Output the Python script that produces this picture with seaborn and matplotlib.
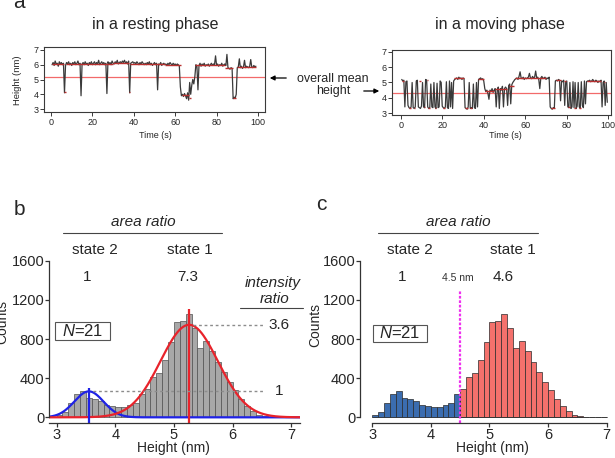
import numpy as np
import pandas as pd
import matplotlib
matplotlib.use('Agg')
import matplotlib.pyplot as plt
import seaborn as sns
from matplotlib.patches import Rectangle, FancyArrowPatch
from matplotlib.lines import Line2D
from matplotlib import font_manager

sns.set_theme(style='white')
plt.rcParams['font.family'] = ['Liberation Sans', 'DejaVu Sans']
plt.rcParams['mathtext.fontset'] = 'custom'
plt.rcParams['mathtext.it'] = 'Liberation Sans:italic'
plt.rcParams['mathtext.rm'] = 'Liberation Sans'

try:
    font_manager.findfont('Liberation Sans Narrow', fallback_to_default=False)
    NARROW = 'Liberation Sans Narrow'
except Exception:
    NARROW = 'Liberation Sans'

# ---------------- data ----------------
# panel a: height traces (nm) sampled every 0.5 s
rest_time_range = (0.5, 99.0)
rest_heights = [
    6.0, 6.15, 5.95, 6.25, 6.05, 6.1, 5.9, 6.2, 6.05, 6.15,
    6.0, 6.1, 4.1, 5.95, 6.15, 6.05, 6.2, 6.0, 6.1, 5.95,
    6.15, 6.05, 6.2, 6.0, 6.1, 6.25, 6.0, 6.1, 3.9, 6.05,
    6.15, 6.0, 6.2, 6.05, 6.1, 5.95, 6.15, 6.05, 6.2, 6.0,
    6.1, 6.2, 6.0, 6.15, 6.05, 6.3, 6.0, 6.1, 6.2, 6.05,
    6.15, 6.0, 6.1, 4.05, 6.2, 6.05, 6.15, 6.0, 6.25, 6.1,
    6.05, 6.2, 6.1, 6.3, 6.05, 6.15, 6.2, 6.1, 6.25, 6.15,
    6.3, 6.1, 6.2, 6.05, 6.25, 4.1, 6.1, 6.15, 6.2, 6.1,
    6.15, 6.05, 6.2, 6.1, 6.0, 6.15, 6.05, 6.2, 6.1, 6.0,
    6.1, 6.0, 6.15, 6.05, 6.2, 6.0, 6.1, 5.95, 6.05, 6.15,
    6.0, 6.1, 4.3, 6.05, 6.0, 6.15, 5.95, 6.05, 6.1, 6.0,
    6.05, 5.95, 6.1, 6.0, 6.15, 6.05, 5.95, 6.1, 6.0, 6.05,
    5.95, 6.05, 6.0, 5.9, 4.5, 3.9, 4.0, 3.85, 4.05, 3.9,
    3.7, 4.1, 3.6, 4.8, 4.0, 4.6, 5.0, 4.7, 5.2, 6.0,
    5.9, 4.3, 5.95, 6.1, 5.9, 6.05, 5.95, 6.1, 5.9, 6.0,
    5.95, 6.05, 5.9, 6.0, 6.1, 5.95, 6.05, 6.0, 6.6, 5.95,
    6.05, 5.9, 6.0, 5.95, 6.1, 5.9, 6.0, 6.05, 5.95, 6.7,
    5.8, 5.75, 5.7, 5.8, 5.75, 3.7, 3.8, 3.75, 4.0, 5.8,
    5.85, 6.4, 5.8, 5.9, 5.75, 5.85, 6.3, 5.8, 5.9, 5.85,
    5.8, 5.9, 6.35, 5.85, 5.8, 5.95, 5.85, 5.9,
]
rest_fit_start = [0.5, 6.3, 7.0, 30.0, 37.8, 38.4, 55.0, 63.3, 66.5, 69.8, 84.0, 88.0, 89.8]
rest_fit_end = [6.2, 7.0, 30.0, 37.8, 38.4, 55.0, 63.0, 66.5, 67.5, 84.0, 88.0, 89.6, 99.0]
rest_fit_level = [6.05, 4.15, 6.08, 6.12, 4.15, 6.05, 5.98, 3.95, 3.75, 5.97, 5.78, 3.78, 5.85]
rest_mean = 5.15

move_time_range = (0.5, 99.5)
move_heights = [
    5.2, 5.1, 5.15, 3.4, 5.05, 5.1, 3.5, 3.35, 3.3, 3.4,
    5.0, 3.35, 3.3, 3.4, 5.1, 5.15, 3.4, 3.35, 3.3, 3.45,
    5.0, 3.4, 3.35, 5.2, 5.15, 3.4, 3.3, 3.35, 4.9, 3.4,
    3.35, 5.0, 3.4, 3.3, 4.95, 3.35, 3.4, 5.1, 5.0, 3.45,
    3.35, 3.3, 3.4, 5.05, 3.35, 3.3, 5.1, 3.4, 5.0, 3.3,
    5.1, 5.2, 5.25, 5.3, 5.2, 5.35, 5.25, 5.3, 5.2, 5.3,
    5.25, 3.35, 3.3, 3.25, 3.4, 5.0, 3.3, 3.35, 3.3, 4.9,
    3.35, 3.3, 5.0, 3.4, 5.2, 5.25, 5.3, 5.2, 5.25, 5.1,
    4.6, 4.4, 4.5, 4.3, 3.9, 4.5, 4.4, 4.6, 4.35, 4.5,
    4.6, 3.4, 4.5, 4.7, 3.3, 4.6, 4.5, 4.75, 3.4, 4.6,
    4.7, 4.6, 3.5, 4.8, 4.9, 3.6, 4.85, 5.0, 5.1, 5.2,
    5.25, 5.3, 5.2, 5.4, 5.7, 5.3, 5.25, 5.35, 5.2, 5.3,
    5.25, 5.3, 5.35, 5.6, 5.3, 5.25, 5.4, 5.3, 5.35, 5.75,
    5.3, 5.35, 5.2, 4.6, 5.3, 5.4, 5.25, 5.3, 5.35, 5.2,
    5.3, 5.25, 5.35, 3.4, 3.3, 3.25, 3.35, 3.3, 5.1, 5.15,
    5.1, 5.2, 5.15, 3.8, 5.1, 5.05, 5.15, 3.5, 5.05, 5.1,
    3.4, 3.35, 5.0, 3.3, 3.4, 5.05, 3.35, 5.0, 3.3, 3.45,
    5.0, 3.4, 3.3, 5.05, 3.5, 3.35, 5.1, 3.6, 5.05, 5.1,
    5.1, 5.15, 5.05, 5.1, 5.2, 5.1, 5.05, 5.15, 5.1, 5.0,
    5.1, 5.05, 5.15, 3.4, 5.0, 5.1, 3.5, 5.0, 3.7,
]
move_fit_start = [0.4, 3.9, 6.2, 8.9, 11.0, 12.5, 13.2, 16.4, 20.5, 25.6, 31.0, 33.5, 37.4, 40.5,
                  45.5, 52.0, 55.2, 72.3, 74.6, 78.5, 80.6, 83.4, 86.0, 89.8, 97.8]
move_fit_end = [1.6, 4.8, 7.0, 9.6, 11.8, 13.0, 14.0, 17.1, 21.4, 30.4, 32.2, 34.4, 40.0, 45.0,
                51.0, 54.6, 70.2, 74.2, 77.2, 79.8, 81.5, 84.2, 86.8, 96.4, 98.6]
move_fit_level = [5.12, 3.35, 3.35, 5.12, 3.37, 5.17, 3.32, 3.33, 3.33, 5.27, 3.3, 3.32, 5.23, 4.45,
                  4.55, 4.8, 5.3, 3.3, 5.15, 5.08, 3.37, 3.35, 3.35, 5.1, 5.05]
move_mean = 4.32

# panels b, c: height histogram (bin width 0.1 nm, from 3.0 nm)
bin_left = [3.0, 3.1, 3.2, 3.3, 3.4, 3.5, 3.6, 3.7, 3.8, 3.9,
            4.0, 4.1, 4.2, 4.3, 4.4, 4.5, 4.6, 4.7, 4.8, 4.9,
            5.0, 5.1, 5.2, 5.3, 5.4, 5.5, 5.6, 5.7, 5.8, 5.9,
            6.0, 6.1, 6.2, 6.3, 6.4, 6.5, 6.6, 6.7, 6.8, 6.9]
counts = [25, 58, 150, 235, 268, 198, 188, 162, 128, 112,
          110, 110, 128, 148, 235, 285, 415, 455, 585, 765,
          972, 980, 1052, 915, 705, 778, 680, 570, 468, 362,
          282, 188, 117, 60, 24, 10, 4, 2, 1, 1]
bin_width = 0.1
state_cut = 4.5

# Gaussian fits (state 2, state 1)
gauss_mean = [3.55, 5.26]
gauss_sigma = [0.25, 0.49]
gauss_amp = [265, 945]
gauss_line_top = [300, 1106]
gauss_colors = ['#1f22e6', '#e8232b']

area_ratio_b = ['1', '7.3']
area_ratio_c = ['1', '4.6']
intensity_ratio = ['1', '3.6']
state_names = ['state 2', 'state 1']

# ---------------- figure ----------------
W, H = 615, 458
fig = plt.figure(figsize=(W / 100, H / 100), dpi=100)
fig.patch.set_facecolor('white')


def fx(px):
    return px / W


def fy(py):
    return 1 - py / H


def axes_px(x0, y0, x1, y1):
    return fig.add_axes([fx(x0), fy(y1), (x1 - x0) / W, (y1 - y0) / H])


def ftext(px, py, s, **kw):
    kw.setdefault('ha', 'center')
    kw.setdefault('va', 'center')
    return fig.text(fx(px), fy(py), s, **kw)


def fline(x0, x1, y, **kw):
    fig.add_artist(Line2D([fx(x0), fx(x1)], [fy(y), fy(y)], transform=fig.transFigure, **kw))


# ---- panel a ----
def trace_panel(box, xlim, ylim, trange, heights, fs, fe, fl, mean):
    ax = axes_px(*box)
    df = pd.DataFrame({'t': np.linspace(trange[0], trange[1], len(heights)), 'h': heights})
    ax.axhline(mean, color='#f26a6a', lw=0.9, zorder=1)
    sns.lineplot(data=df, x='t', y='h', ax=ax, color='#3a3a3a', lw=0.9, estimator=None,
                 sort=False, zorder=2)
    ax.hlines(fl, fs, fe, color='#b8302f', lw=1.0, zorder=3)
    ax.set_xlim(*xlim)
    ax.set_ylim(*ylim)
    ax.set_xticks([0, 20, 40, 60, 80, 100])
    ax.set_yticks([3, 4, 5, 6, 7])
    ax.set_xlabel('')
    ax.set_ylabel('')
    for sp in ax.spines.values():
        sp.set_visible(True)
        sp.set_color('#3a3a3a')
        sp.set_linewidth(0.8)
    ax.tick_params(axis='both', which='both', direction='out', length=3, width=0.7,
                   color='#3a3a3a', labelsize=6.5, pad=1, bottom=True, left=True)
    return ax


ax1 = trace_panel((44, 47, 265, 112), (-3.4, 103.4), (2.8, 7.2), rest_time_range,
                  rest_heights, rest_fit_start, rest_fit_end, rest_fit_level, rest_mean)
ax2 = trace_panel((392, 50, 611, 115), (-4.2, 101.3), (2.87, 7.13), move_time_range,
                  move_heights, move_fit_start, move_fit_end, move_fit_level, move_mean)

fig.text(fx(13), fy(8.5), 'a', fontsize=15, ha='left', va='baseline')
ftext(155, 24, 'in a resting phase', fontsize=11.5)
ftext(500, 25, 'in a moving phase', fontsize=11.5)
ftext(155, 135, 'Time (s)', fontsize=6.5)
ftext(505, 136, 'Time (s)', fontsize=6.5)
ftext(18, 80, 'Height (nm)', fontsize=6.8, rotation=90)
ftext(333, 79, 'overall mean', fontsize=9)
ftext(333, 91, 'height', fontsize=9)
fig.add_artist(FancyArrowPatch((fx(289), fy(78)), (fx(267), fy(78)),
               transform=fig.transFigure, arrowstyle='-|>', mutation_scale=7, color='black', lw=0.9))
fig.add_artist(FancyArrowPatch((fx(361), fy(91)), (fx(382), fy(91)),
               transform=fig.transFigure, arrowstyle='-|>', mutation_scale=7, color='black', lw=0.9))

# ---- panels b, c ----
edges = [round(b, 2) for b in bin_left] + [round(bin_left[-1] + bin_width, 2)]
hist_df = pd.DataFrame({'center': np.array(bin_left) + bin_width / 2, 'n': counts})
hist_df['state'] = np.where(hist_df['center'] < state_cut, 'state 2', 'state 1')


def style_hist(ax, xlim, xbounds):
    ax.set_xlim(*xlim)
    ax.set_ylim(-55, 1600)
    ax.set_xticks([3, 4, 5, 6, 7])
    ax.set_yticks([0, 400, 800, 1200, 1600])
    ax.set_xlabel('')
    ax.set_ylabel('')
    ax.spines['top'].set_visible(False)
    ax.spines['right'].set_visible(False)
    for k in ('left', 'bottom'):
        ax.spines[k].set_color('#333333')
        ax.spines[k].set_linewidth(0.9)
    ax.spines['left'].set_bounds(0, 1600)
    ax.spines['bottom'].set_bounds(*xbounds)
    ax.tick_params(axis='both', direction='out', length=3, width=0.9, color='#333333',
                   labelsize=10.5, pad=0.5, bottom=True, left=True)
    for lab in ax.get_xticklabels() + ax.get_yticklabels():
        lab.set_fontfamily([NARROW, 'Liberation Sans', 'DejaVu Sans'])


axb = axes_px(49, 260.7, 300, 422.7)
sns.histplot(data=hist_df, x='center', weights='n', bins=edges, ax=axb, color='#a8a8a8',
             edgecolor='#505050', linewidth=0.5, alpha=1)
xg = np.linspace(2.87, 7.15, 600)
for m, s, a, c in zip(gauss_mean, gauss_sigma, gauss_amp, gauss_colors):
    gdf = pd.DataFrame({'x': xg, 'y': a * np.exp(-0.5 * ((xg - m) / s) ** 2)})
    sns.lineplot(data=gdf, x='x', y='y', ax=axb, color=c, lw=1.6)
for m, top, c in zip(gauss_mean, gauss_line_top, gauss_colors):
    axb.vlines(m, -55, top, color=c, lw=1.6, clip_on=False)
axb.hlines(gauss_amp, [3.62, 5.32], 6.53, color='#8c8c8c', lw=1.0, linestyles=(0, (2, 2)))
for a, r in zip(gauss_amp, intensity_ratio):
    axb.text(6.8, a, r, fontsize=11, ha='center', va='center', clip_on=False)
style_hist(axb, (2.87, 7.15), (2.87, 7.15))

axc = axes_px(360, 260.7, 609.6, 422.7)
sns.histplot(data=hist_df, x='center', weights='n', hue='state', bins=edges, ax=axc,
             palette={'state 2': '#3b6db0', 'state 1': '#f4716c'}, hue_order=['state 2', 'state 1'],
             edgecolor='#2a2a2a', linewidth=0.5, alpha=1, legend=False)
axc.vlines(state_cut, -55, 1300, color='#ee30ee', lw=1.6, linestyles=(0, (1.2, 0.8)))
style_hist(axc, (2.79, 7.05), (3, 7))

# annotations b
fig.text(fx(14), fy(215), 'b', fontsize=15, ha='left', va='baseline')
ftext(143, 222, 'area ratio', fontsize=11, style='italic')
fline(63, 222, 233, color='#444444', lw=0.8)
ftext(95, 250, state_names[0], fontsize=11)
ftext(190, 250, state_names[1], fontsize=11)
ftext(87, 277, area_ratio_b[0], fontsize=11)
ftext(188, 277, area_ratio_b[1], fontsize=11)
ftext(273, 283, 'intensity', fontsize=11, style='italic')
ftext(275, 299, 'ratio', fontsize=11, style='italic')
fline(240, 303, 308, color='#444444', lw=0.8)
fig.add_artist(Rectangle((fx(55), fy(340)), (110 - 55) / W, (340 - 322) / H, transform=fig.transFigure,
                         fc='white', ec='#555555', lw=0.8))
ftext(82.5, 331.5, r'$\mathit{N}$=21', fontsize=12)
ftext(2, 322, 'Counts', fontsize=10, rotation=90)
ftext(173, 448, 'Height (nm)', fontsize=10)

# annotations c
fig.text(fx(316), fy(210), 'c', fontsize=15, ha='left', va='baseline')
ftext(458, 222, 'area ratio', fontsize=11, style='italic')
fline(378, 538, 233, color='#444444', lw=0.8)
ftext(410, 250, state_names[0], fontsize=11)
ftext(513, 250, state_names[1], fontsize=11)
ftext(402, 277, area_ratio_c[0], fontsize=11)
ftext(503, 277, area_ratio_c[1], fontsize=11)
ftext(458, 278, '4.5 nm', fontsize=7.5, color='#333333')
fig.add_artist(Rectangle((fx(373), fy(342)), (427 - 373) / W, (342 - 325) / H, transform=fig.transFigure,
                         fc='white', ec='#555555', lw=0.8))
ftext(399.5, 333.5, r'$\mathit{N}$=21', fontsize=12)
ftext(315, 325, 'Counts', fontsize=10, rotation=90)
ftext(492, 448, 'Height (nm)', fontsize=10)

fig.savefig('out.png', dpi=100, facecolor='white')
